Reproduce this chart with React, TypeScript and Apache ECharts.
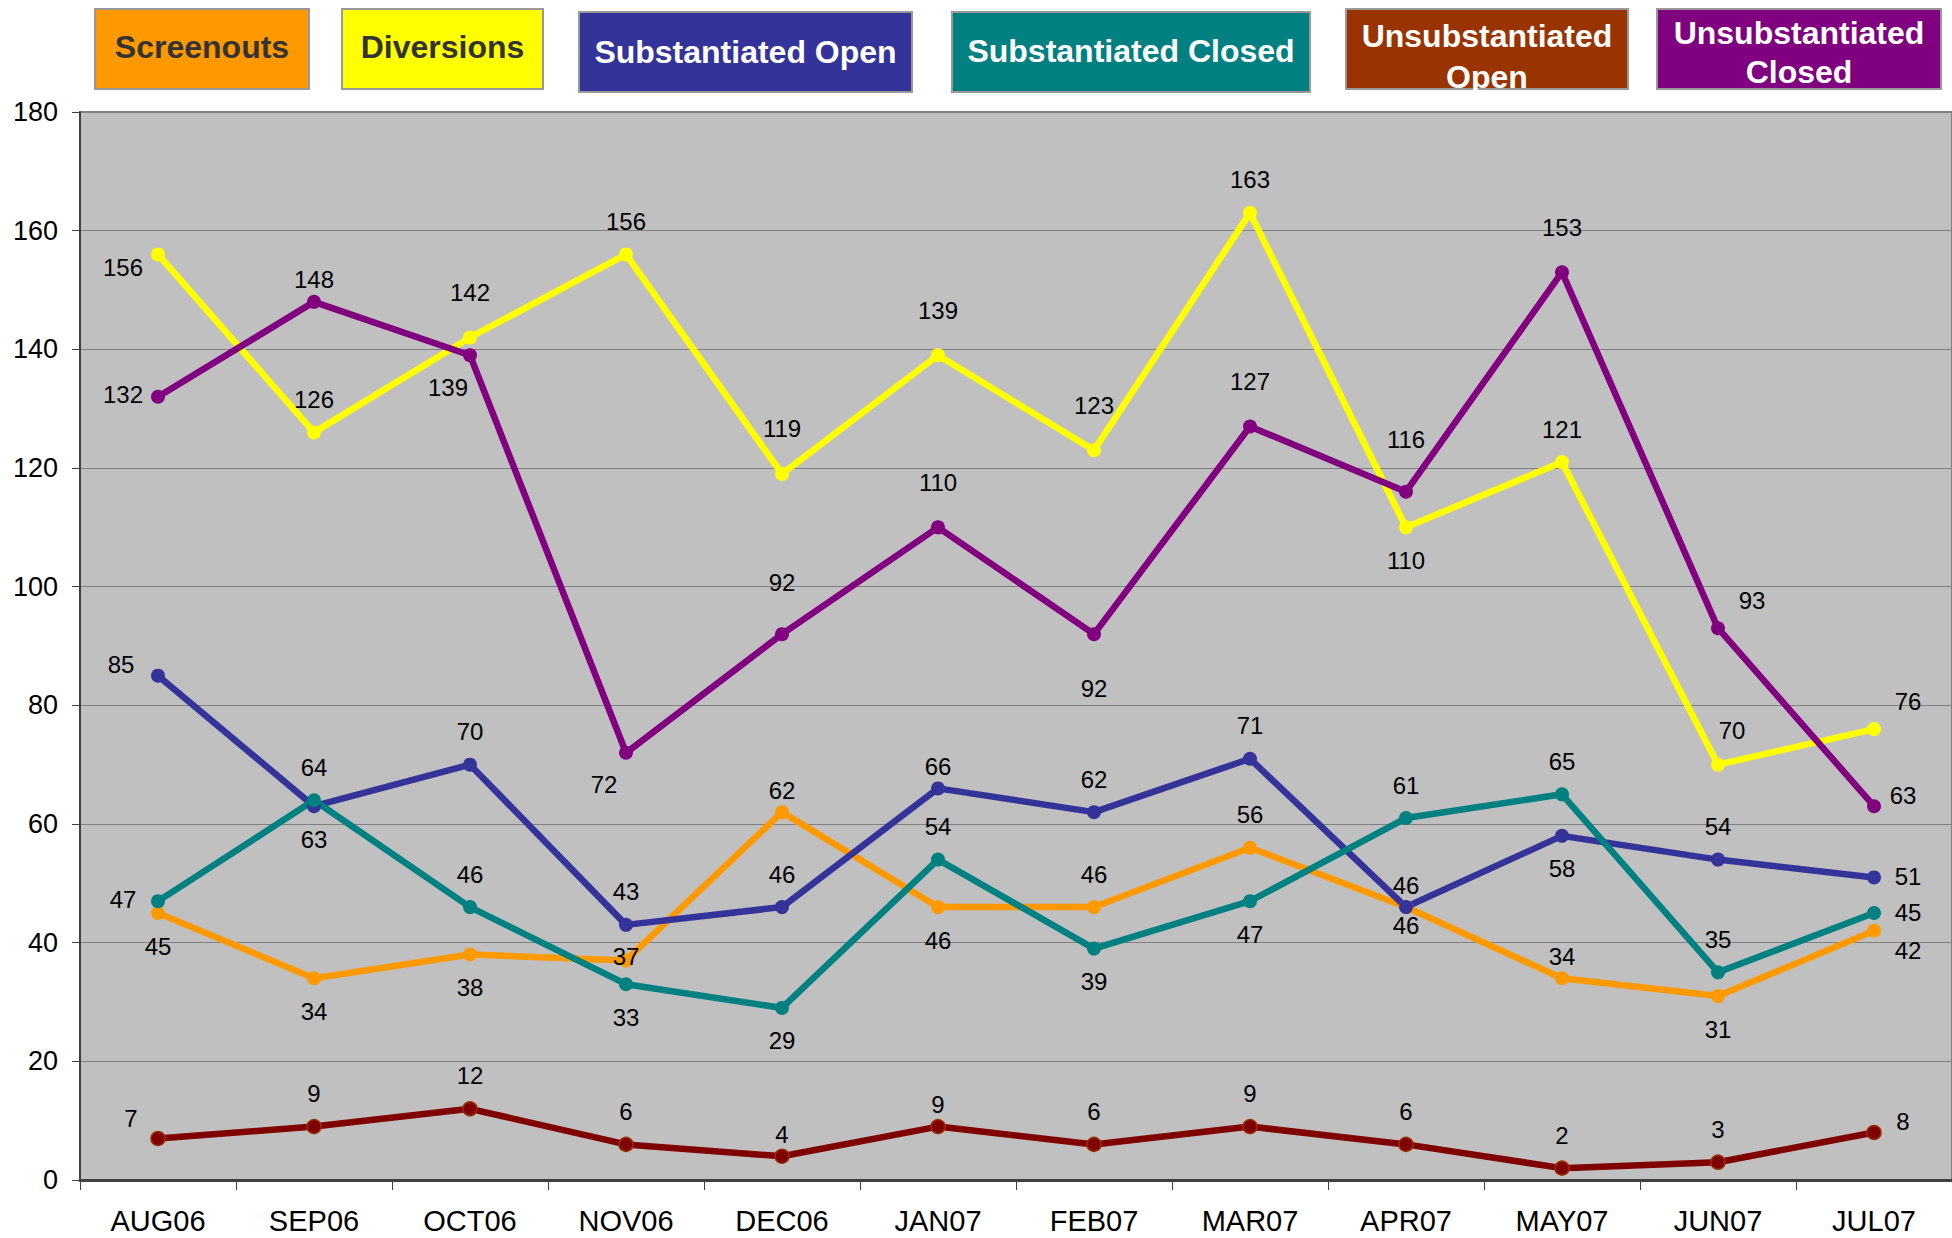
import React, { useEffect, useRef } from "react";
import * as echarts from "echarts";

const categories = ["AUG06", "SEP06", "OCT06", "NOV06", "DEC06", "JAN07", "FEB07", "MAR07", "APR07", "MAY07", "JUN07", "JUL07"];

const seriesNames = ["Screenouts", "Diversions", "Substantiated Open", "Substantiated Closed", "Unsubstantiated Open", "Unsubstantiated Closed"];

const screenouts = [45, 34, 38, 37, 62, 46, 46, 56, 46, 34, 31, 42];
const diversions = [156, 126, 142, 156, 119, 139, 123, 163, 110, 121, 70, 76];
const substantiatedOpen = [85, 63, 70, 43, 46, 66, 62, 71, 46, 58, 54, 51];
const substantiatedClosed = [47, 64, 46, 33, 29, 54, 39, 47, 61, 65, 35, 45];
const unsubstantiatedOpen = [7, 9, 12, 6, 4, 9, 6, 9, 6, 2, 3, 8];
const unsubstantiatedClosed = [132, 148, 139, 72, 92, 110, 92, 127, 116, 153, 93, 63];

const yTicks = { min: 0, max: 180, interval: 20 };

// label placement codes (style only)
const labelCodes: Record<string, number[]> = {
  T: [0, -33], t: [0, -22], T2: [0, -45], T3: [0, -52],
  B: [0, 33], b: [0, 18], B2: [0, 54], C: [0, -4],
  L: [-35, -2], LB: [-35, 13], LT: [-37, -11], LT2: [-27, -20],
  BL: [-22, 32], TR: [34, -28], Tr: [14, -34], R: [34, -1], R2: [29, -11], BR: [34, 20],
};

const screenoutsLabels = ["B", "B", "B", "C", "t", "B", "T", "T", "b", "t", "B", "BR"];
const diversionsLabels = ["LB", "T", "T2", "T", "T2", "T2", "T2", "T", "B", "T", "Tr", "TR"];
const substOpenLabels = ["LT", "B", "T", "T", "T", "t", "T", "T", "t", "B", "T", "R"];
const substClosedLabels = ["L", "T", "T", "B", "B", "T", "B", "B", "T", "T", "T", "R"];
const unsubOpenLabels = ["LT2", "T", "T", "T", "t", "t", "T", "T", "T", "T", "T", "R2"];
const unsubClosedLabels = ["L", "t", "BL", "BL", "T3", "T2", "B2", "T2", "T3", "T2", "TR", "R2"];

const lineColors = ["#FF9900", "#FFFF00", "#333399", "#008080", "#800000", "#800080"];
const boxColors = ["#FF9900", "#FFFF00", "#333399", "#008080", "#993300", "#800080"];
const boxTextColors = ["#333333", "#333333", "#FFFFFF", "#FFFFFF", "#FFFFFF", "#FFFFFF"];
const boxTexts = ["Screenouts", "Diversions", "Substantiated Open", "Substantiated Closed", "Unsubstantiated\nOpen", "Unsubstantiated\nClosed"];
// legend box layout: x, y, w, h, textY, lineHeight
const boxLayout = [
  [95, 9, 214, 80, 47, 38],
  [342, 9, 201, 80, 47, 38],
  [579, 12, 333, 80, 52, 38],
  [952, 12, 358, 80, 51, 38],
  [1346, 9, 282, 80, 56, 41],
  [1657, 9, 284, 80, 52.5, 39],
];

const FONT = "'Liberation Sans', Arial, sans-serif";

export default function App() {
  const ref = useRef<HTMLDivElement>(null);
  useEffect(() => {
    if (!ref.current) return;
    const chart = echarts.init(ref.current, null, { renderer: "svg" });
    const allData = [screenouts, diversions, substantiatedOpen, substantiatedClosed, unsubstantiatedOpen, unsubstantiatedClosed];
    const allLabels = [screenoutsLabels, diversionsLabels, substOpenLabels, substClosedLabels, unsubOpenLabels, unsubClosedLabels];

    const series = allData.map((vals, si) => ({
      name: seriesNames[si],
      type: "line",
      data: vals.map((v, i) => ({
        value: v,
        label: { offset: labelCodes[allLabels[si][i]] },
      })),
      symbol: "circle",
      symbolSize: 14,
      lineStyle: { color: lineColors[si], width: 6.5 },
      itemStyle: {
        color: lineColors[si],
        borderColor: si === 4 ? "#993300" : lineColors[si],
        borderWidth: si === 4 ? 1.5 : 0,
      },
      label: {
        show: true,
        position: "inside",
        color: "#000000",
        fontSize: 24,
        fontFamily: FONT,
      },
      emphasis: { disabled: true },
    }));

    const graphic: any[] = boxTexts.map((t, i) => {
      const [x, y, w, h, ty, lh] = boxLayout[i];
      return {
        type: "group",
        children: [
          {
            type: "rect",
            shape: { x, y, width: w, height: h },
            style: { fill: boxColors[i], stroke: "#999999", lineWidth: 2 },
          },
          {
            type: "text",
            x: x + w / 2,
            y: ty,
            style: {
              text: t,
              align: "center",
              verticalAlign: "middle",
              fontSize: 32,
              fontWeight: "bold",
              fontFamily: FONT,
              fill: boxTextColors[i],
              lineHeight: lh,
            },
          },
        ],
      };
    });

    chart.setOption({
      animation: false,
      backgroundColor: "#FFFFFF",
      graphic,
      grid: {
        left: 80,
        right: 0,
        top: 112,
        bottom: 58,
        show: true,
        backgroundColor: "#C0C0C0",
        borderColor: "#808080",
        borderWidth: 2,
      },
      xAxis: {
        type: "category",
        data: categories,
        boundaryGap: true,
        axisLine: { show: true, lineStyle: { color: "#404040", width: 3 } },
        axisTick: { show: true, alignWithLabel: false, interval: 0, length: 10, lineStyle: { color: "#404040", width: 1 } },
        axisLabel: { color: "#000000", fontSize: 29, fontFamily: FONT, margin: 26, interval: 0 },
        splitLine: { show: false },
      },
      yAxis: {
        type: "value",
        min: yTicks.min,
        max: yTicks.max,
        interval: yTicks.interval,
        axisLine: { show: true, lineStyle: { color: "#404040", width: 2 } },
        axisTick: { show: true, length: 8, lineStyle: { color: "#404040", width: 1 } },
        axisLabel: { color: "#000000", fontSize: 27, fontFamily: FONT, margin: 22 },
        splitLine: { show: true, lineStyle: { color: "#808080", width: 1 } },
      },
      series,
    });
    return () => chart.dispose();
  }, []);
  return <div ref={ref} style={{ position: "fixed", left: 0, top: 0, width: 1952, height: 1238 }} />;
}
